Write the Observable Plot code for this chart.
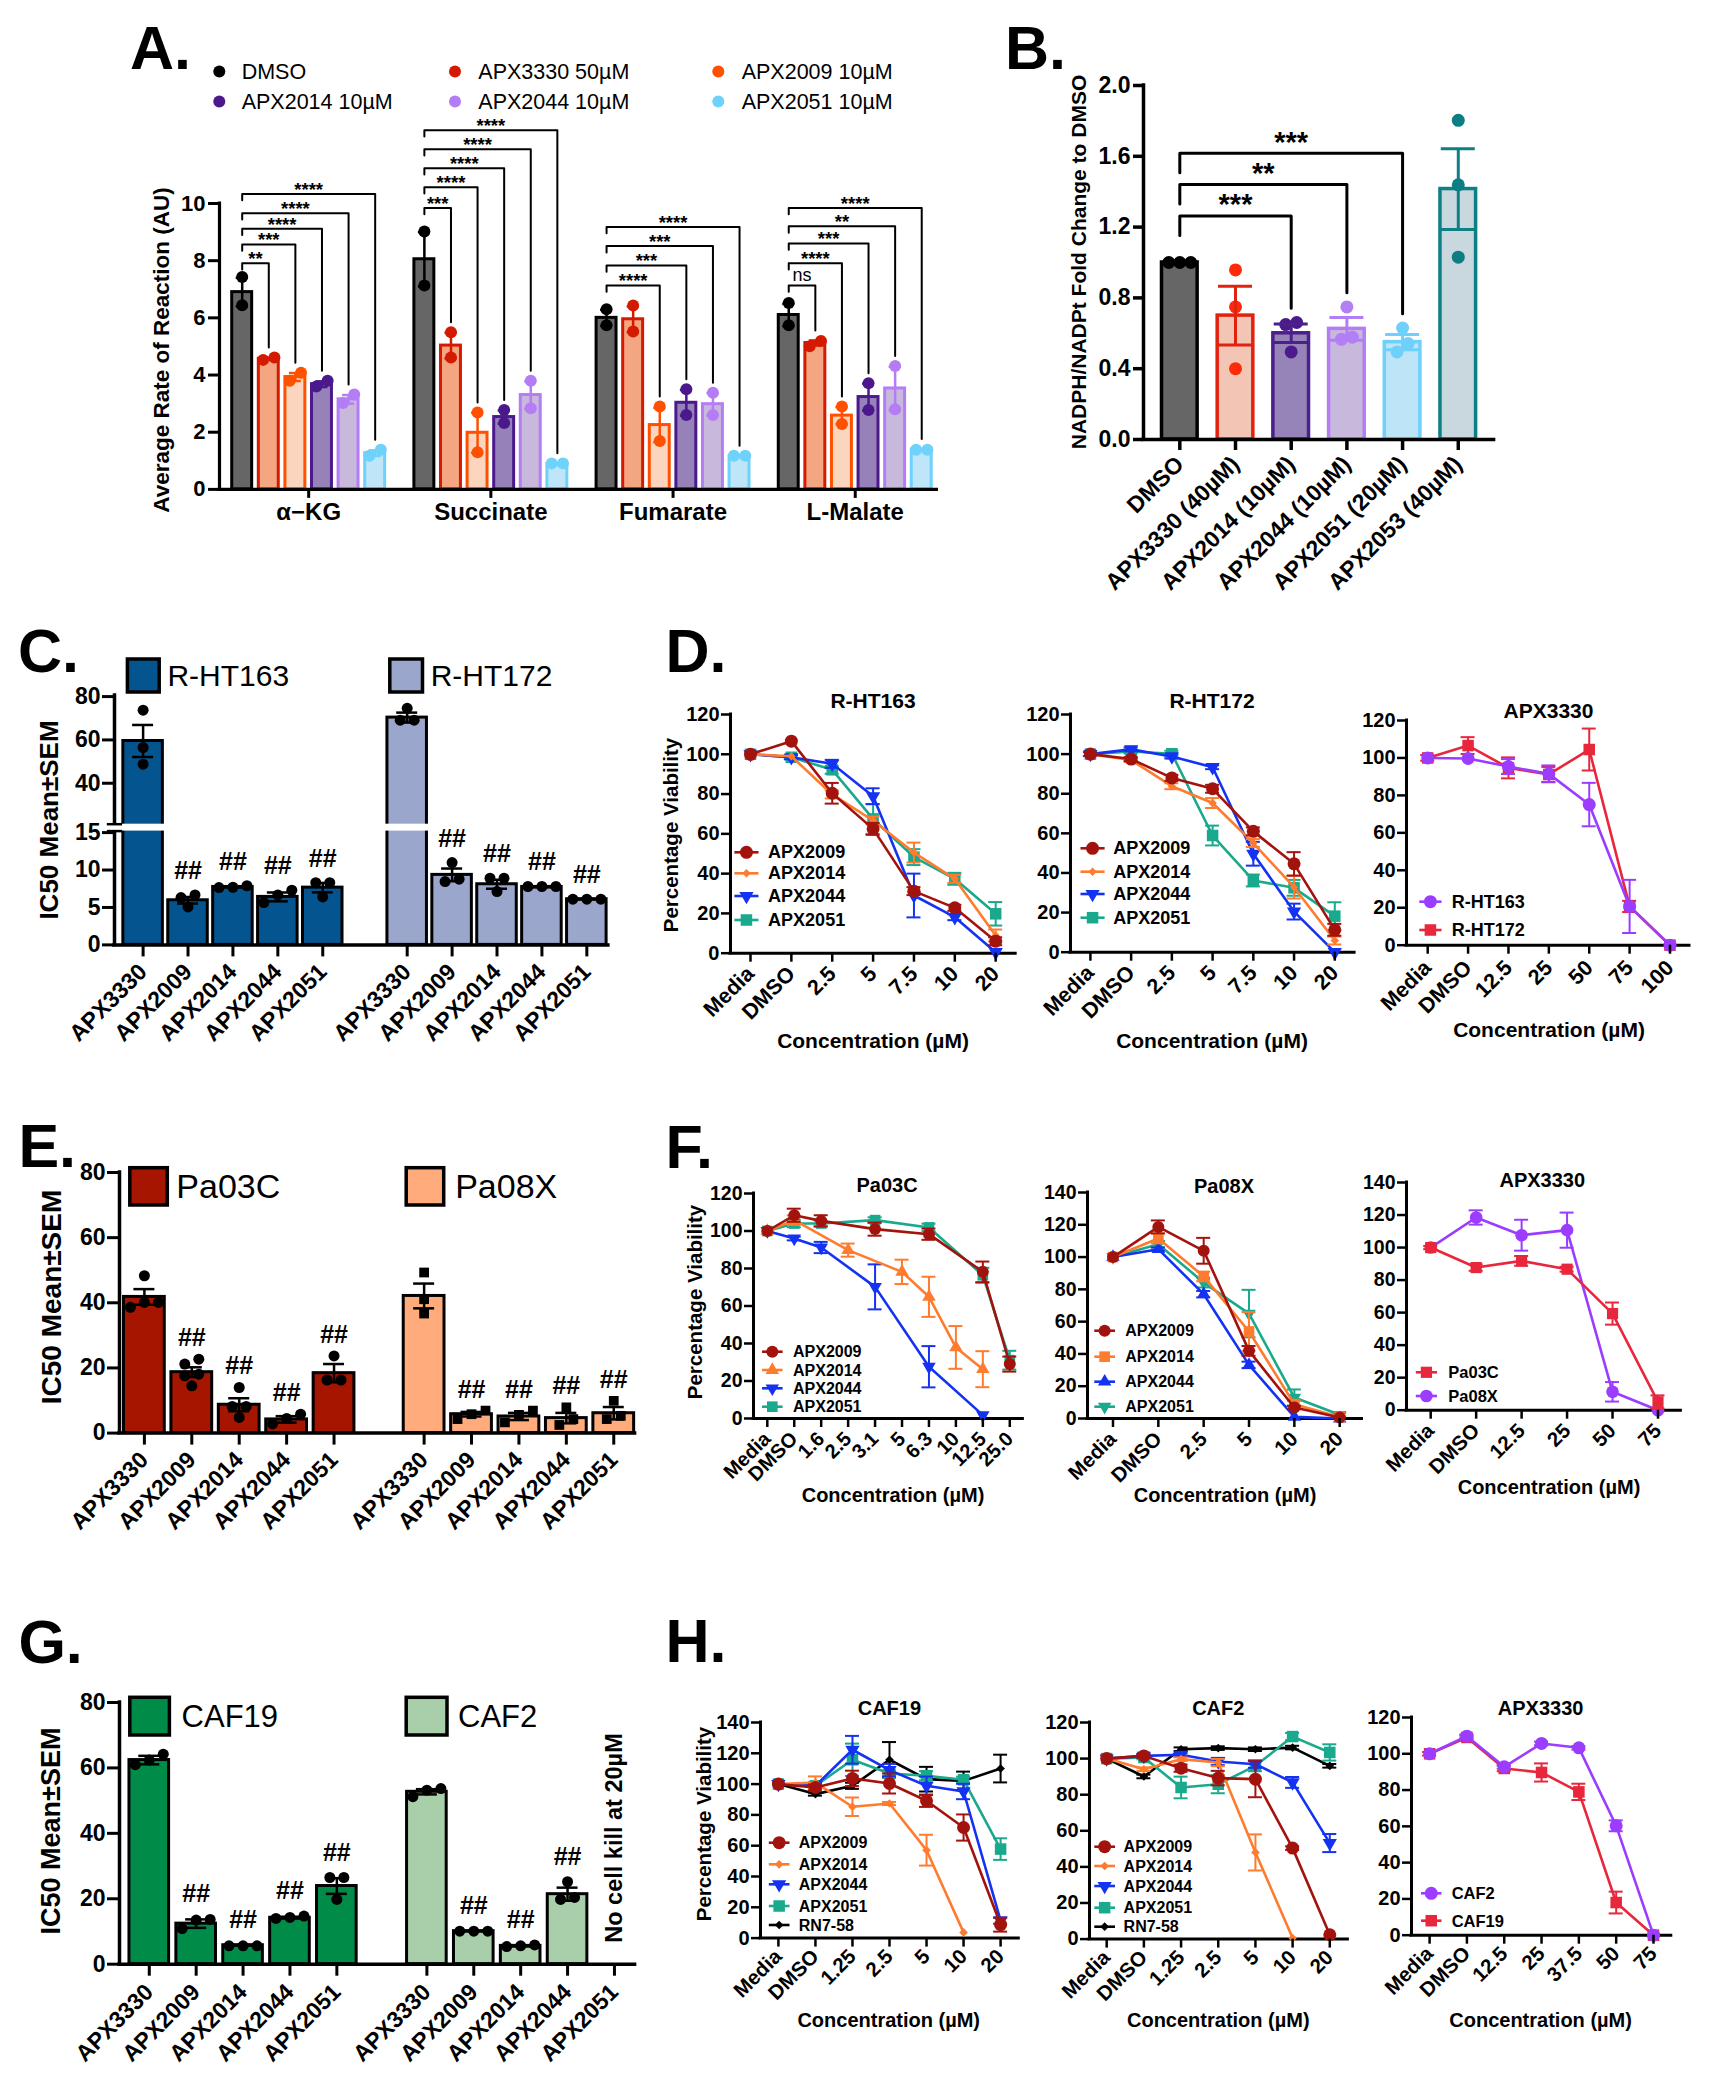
<!DOCTYPE html>
<html>
<head>
<meta charset="utf-8">
<script src="https://cdn.jsdelivr.net/npm/d3@7"></script>
<script src="https://cdn.jsdelivr.net/npm/@observablehq/plot@0.6"></script>
<style>
  html, body { margin: 0; padding: 0; background: #fff; }
  #page { position: relative; width: 1716px; height: 2100px; overflow: hidden; background: #fff; }
  #page svg { position: absolute; overflow: visible; }
</style>
</head>
<body>
<div id="page"></div>
<script>
// ======================= DATA =======================
// ---- Panel A : average rate of reaction (AU) ----
const aGroups = ["α−KG", "Succinate", "Fumarate", "L-Malate"];
const aTreatments = ["DMSO", "APX3330 50µM", "APX2009 10µM", "APX2014 10µM", "APX2044 10µM", "APX2051 10µM"];
const aMeans = [
  [6.90, 4.57, 3.93, 3.68, 3.15, 1.27],
  [8.05, 5.03, 1.98, 2.53, 3.30, 0.89],
  [6.00, 5.95, 2.25, 3.03, 2.98, 1.16],
  [6.10, 5.12, 2.58, 3.23, 3.53, 1.39]
];
const aSEM = [
  [0.50, 0.04, 0.14, 0.10, 0.15, 0.10],
  [0.95, 0.45, 0.70, 0.23, 0.48, 0.02],
  [0.28, 0.45, 0.60, 0.45, 0.39, 0.02],
  [0.39, 0.09, 0.30, 0.47, 0.76, 0.02]
];
const aPoints = [
  [[7.43, 6.44], [4.53, 4.61], [3.80, 4.08], [3.60, 3.80], [3.02, 3.32], [1.18, 1.39]],
  [[9.02, 7.13], [5.50, 4.61], [2.69, 1.30], [2.78, 2.32], [3.80, 2.84], [0.91, 0.91]],
  [[6.30, 5.74], [6.43, 5.52], [2.90, 1.69], [3.50, 2.60], [3.38, 2.60], [1.18, 1.18]],
  [[6.52, 5.74], [5.01, 5.19], [2.90, 2.29], [3.71, 2.78], [4.32, 2.80], [1.39, 1.39]]
];
const aBracketGroup  = [0, 0, 0, 0, 0, 1, 1, 1, 1, 1, 2, 2, 2, 2, 3, 3, 3, 3, 3];
const aBracketTarget = [1, 2, 3, 4, 5, 1, 2, 3, 4, 5, 2, 3, 4, 5, 1, 2, 3, 4, 5];
const aBracketLevel  = [7.91, 8.57, 9.12, 9.66, 10.33, 9.84, 10.57, 11.23, 11.90, 12.56, 7.13, 7.83, 8.51, 9.18, 7.13, 7.91, 8.60, 9.20, 9.84];
const aBracketLabel  = ["**", "***", "****", "****", "****", "***", "****", "****", "****", "****", "****", "***", "***", "****", "ns", "****", "***", "**", "****"];

// ---- Panel B : NADPH/NADPt fold change ----
const bCategories = ["DMSO", "APX3330 (40µM)", "APX2014 (10µM)", "APX2044 (10µM)", "APX2051 (20µM)", "APX2053 (40µM)"];
const bMeans = [1.00, 0.70, 0.60, 0.625, 0.55, 1.415];
const bSEM = [0.0, 0.166, 0.052, 0.064, 0.043, 0.228];
const bPoints = [[1.0, 1.0, 1.0], [0.958, 0.749, 0.40], [0.661, 0.649, 0.495], [0.749, 0.566, 0.578], [0.630, 0.495, 0.542], [1.803, 1.439, 1.030]];
const bBracketTarget = [2, 3, 4];
const bBracketLevel = [1.263, 1.441, 1.617];
const bBracketLabel = ["***", "**", "***"];

// ---- Panels C / E / G : IC50 ----
const icCompounds = ["APX3330", "APX2009", "APX2014", "APX2044", "APX2051"];
const cLines = ["R-HT163", "R-HT172"];
const cMeans = [[59.5, 5.96, 7.74, 6.41, 7.65], [70.3, 9.35, 8.10, 7.74, 6.10]];
const cSEM = [[7.4, 0.44, 0.08, 0.59, 0.63], [2.3, 0.85, 0.60, 0.06, 0.04]];
const cPoints = [
  [[73.7, 56.5, 48.8], [5.07, 6.32, 6.68], [7.65, 7.90, 7.70], [7.30, 5.65, 6.68], [8.30, 6.40, 8.30]],
  [[74.6, 69.1, 69.1], [11.0, 8.46, 8.77], [8.90, 7.12, 8.90], [7.80, 7.80, 7.80], [6.10, 6.10, 6.10]]
];
const eLines = ["Pa03C", "Pa08X"];
const eMeans = [[41.8, 18.7, 8.7, 4.2, 18.4], [42.1, 5.8, 5.1, 4.6, 6.1]];
const eSEM = [[2.4, 1.5, 2.0, 1.0, 2.8], [3.8, 0.7, 1.1, 1.6, 1.9]];
const ePoints = [
  [[48.3, 40.1, 38.6, 40.1], [21.2, 22.7, 18.1, 17.6, 14.5], [14.0, 8.2, 8.2, 4.8], [2.8, 5.8, 4.5], [23.7, 16.3, 16.3]],
  [[49.3, 41.1, 36.7], [4.3, 6.9, 5.8], [6.9, 3.3, 5.6], [2.5, 7.9, 4.3], [4.3, 9.9, 5.3]]
];
const gLines = ["CAF19", "CAF2"];
const gMeans = [[62.4, 12.4, 5.8, 14.2, 23.9], [52.7, 10.1, 5.6, 21.4, null]];
const gSEM = [[1.3, 1.3, 0.1, 0.25, 2.4], [0.8, 0.1, 0.2, 2.0, null]];
const gPoints = [
  [[64.2, 61.0, 62.4], [10.9, 13.7, 13.5], [5.6, 5.6, 5.6], [14.3, 14.7, 14.0], [26.5, 19.8, 26.5]],
  [[51.2, 53.7, 53.2], [10.1, 10.1, 10.1], [5.4, 5.9, 5.6], [25.2, 19.8, 20.4], []]
];

// ---- Panel D : viability (%) ----
const dConc = ["Media", "DMSO", "2.5", "5", "7.5", "10", "20"];
const dHT163 = {
  APX2009: [100, 106.6, 80.4, 62.5, 31.2, 22.8, 6.0],
  APX2014: [100, 99.0, 79.8, 66.7, 50.6, 37.4, 8.9],
  APX2044: [100, 98.5, 95.2, 78.9, 29.0, 18.1, 0.5],
  APX2051: [100, 98.5, 92.2, 67.5, 48.3, 37.4, 19.8]
};
const dHT163Err = {
  APX2009: [0, 0, 5.2, 3, 2, 1.5, 2],
  APX2014: [0, 0, 2, 2, 5, 2, 3],
  APX2044: [0, 1, 2, 4, 11, 1.5, 0],
  APX2051: [0, 1, 2, 7.5, 4, 3, 5.9]
};
const dHT172 = {
  APX2009: [100, 97.5, 88.0, 82.5, 61.0, 44.6, 11.3],
  APX2014: [100, 97.0, 83.8, 75.3, 55.1, 32.8, 5.9],
  APX2044: [100, 102.4, 98.8, 93.4, 49.7, 20.5, 0],
  APX2051: [100, 101.3, 100.2, 58.9, 36.2, 32.5, 18.2]
};
const dHT172Err = {
  APX2009: [0, 1, 1.5, 2, 2, 5.9, 3],
  APX2014: [0, 1, 1.5, 2.5, 2, 5.7, 2],
  APX2044: [1, 1, 1, 1, 6, 4, 0],
  APX2051: [0, 1, 1.5, 5, 3, 4, 7]
};
const dConc3330 = ["Media", "DMSO", "12.5", "25", "50", "75", "100"];
const d3330 = {
  "R-HT163": [100, 99.7, 95.4, 91.5, 75.1, 20.7, 0],
  "R-HT172": [100, 106.6, 94.7, 91.2, 104.5, 20.7, 0]
};
const d3330Err = {
  "R-HT163": [0, 0, 4, 4.5, 11.6, 14.2, 0],
  "R-HT172": [1.5, 4.5, 5.6, 4, 11.2, 3, 0]
};

// ---- Panel F ----
const fConcPa03C = ["Media", "DMSO", "1.6", "2.5", "3.1", "5", "6.3", "10", "12.5", "25.0"];
const fPa03C = {
  APX2009: [100, 108.4, 105.4, null, 101.0, null, 98.3, null, 78.2, 29.0],
  APX2014: [100, 105.8, null, 89.8, null, 78.2, 64.9, 37.9, 26.3, null],
  APX2044: [100, 96.0, 91.2, null, 70.2, null, 27.6, null, 1.8, null],
  APX2051: [100, 104.0, 104.0, null, 105.8, null, 101.9, null, 76.4, 31.1]
};
const fPa03CErr = {
  APX2009: [0, 3.5, 3, null, 3.5, null, 3, null, 5.5, 4],
  APX2014: [0, 2.5, null, 3.5, null, 6.5, 10.7, 11.4, 9.6, null],
  APX2044: [0, 1, 3, null, 12, null, 11, null, 0, null],
  APX2051: [0, 2, 1.5, null, 1.5, null, 2, null, 4, 5]
};
const fConcPa08X = ["Media", "DMSO", "2.5", "5", "10", "20"];
const fPa08X = {
  APX2009: [100, 118.7, 103.9, 41.9, 6.8, 0.6],
  APX2014: [100, 111.5, 88.0, 53.9, 8.9, 1.0],
  APX2044: [100, 104.9, 77.0, 33.2, 1.0, 0],
  APX2051: [100, 108.0, 84.2, 65.0, 13.0, 2.3]
};
const fPa08XErr = {
  APX2009: [0, 4, 8, 3, 1, 0],
  APX2014: [0, 3, 3, 12, 2, 0],
  APX2044: [0, 1, 2, 2, 0, 0],
  APX2051: [0, 2, 3, 14.7, 5, 1]
};
const fConc3330 = ["Media", "DMSO", "12.5", "25", "50", "75"];
const f3330 = {
  Pa03C: [100, 87.7, 91.8, 86.7, 59.4, 5.1],
  Pa08X: [100, 118.5, 107.6, 110.7, 11.3, 0]
};
const f3330Err = {
  Pa03C: [1, 2, 3, 1.5, 6.8, 4],
  Pa08X: [0, 4.4, 9.5, 10.8, 6, 0]
};

// ---- Panel H ----
const hConc = ["Media", "DMSO", "1.25", "2.5", "5", "10", "20"];
const hCAF19 = {
  APX2009: [100, 97.8, 103.7, 100.4, 89.2, 71.8, 8.7],
  APX2014: [100, 101.0, 85.3, 87.4, 57.1, 3.7, null],
  APX2044: [100, 98.9, 122.3, 109.1, 98.9, 95.2, 11.3],
  APX2051: [100, 98.9, 115.8, 106.9, 105.4, 102.8, 57.8],
  "RN7-58": [100, 93.5, 98.9, 115.8, 103.2, 102.1, 110.1]
};
const hCAF19Err = {
  APX2009: [0, 2, 5, 6.5, 4, 8.5, 4.5],
  APX2014: [0, 4, 6, 1, 10, 0, null],
  APX2044: [0, 2, 9, 4, 6, 5, 2],
  APX2051: [0, 2, 10.5, 2, 3, 2, 7],
  "RN7-58": [0, 1, 2, 11.5, 8, 6, 9]
};
const hCAF2 = {
  APX2009: [100, 101.5, 94.7, 89.2, 88.6, 50.4, 2.4],
  APX2014: [100, 94.1, 99.7, 97.8, 48.0, 0.6, null],
  APX2044: [100, 101.5, 102.1, 98.4, 96.9, 86.8, 53.2],
  APX2051: [100, 100.6, 84.0, 85.8, 96.0, 112.2, 103.4],
  "RN7-58": [100, 90.1, 105.2, 105.8, 105.2, 106.1, 96.0]
};
const hCAF2Err = {
  APX2009: [0, 1, 2, 4, 10, 1, 0],
  APX2014: [0, 1, 1, 2, 10, 0, null],
  APX2044: [0, 1, 1, 2, 2, 3, 5],
  APX2051: [0, 1, 6, 5, 3, 2, 4.5],
  "RN7-58": [0, 1, 1, 1, 1, 1, 1]
};
const hConc3330 = ["Media", "DMSO", "12.5", "25", "37.5", "50", "75"];
const h3330 = {
  CAF2: [100, 109.7, 92.8, 105.7, 103.3, 60.3, 0],
  CAF19: [100, 109.0, 91.9, 89.7, 79.0, 18.0, 0]
};
const h3330Err = {
  CAF2: [0, 1, 1, 1, 1, 3, 0],
  CAF19: [1, 1, 1.5, 5, 4.5, 6, 0]
};

// ======================= STYLE =======================
const FONT = '"Liberation Sans", Arial, Helvetica, sans-serif';
const page = document.getElementById("page");
const A_FILL = ["#666666", "#f4a582", "#fcd5be", "#9682b9", "#c8b9dc", "#bee6f8"];
const A_STROKE = ["#000000", "#d41a00", "#ff5000", "#4b198c", "#b47df5", "#6ed2fa"];
const B_FILL = ["#666666", "#f2c5b5", "#9683b8", "#c8b8dc", "#bee4f7", "#c9d7de"];
const B_STROKE = ["#000000", "#e0220f", "#4b1f8c", "#b47df5", "#6fd0fb", "#0e7f85"];
const B_PT = ["#000000", "#ff2a0a", "#4d1a8c", "#b27ff5", "#6fd0fb", "#0b7d83"];
const C2009 = "#a3130e", C2014 = "#ff7b2e", C2044 = "#1432f2", C2051 = "#19a98c", CRN = "#000000", CPUR = "#9b3cff", CRED = "#e8263c";

const triDown = {draw(ctx, size) {
  const y = -Math.sqrt(size / (Math.sqrt(3) * 3));
  ctx.moveTo(0, -y * 2); ctx.lineTo(-Math.sqrt(3) * y, y); ctx.lineTo(Math.sqrt(3) * y, y); ctx.closePath();
}};
const triUp = d3.symbolTriangle, circ = d3.symbolCircle, sq = d3.symbolSquare, dia = d3.symbolDiamond2;

// ======================= HELPERS =======================
function makePlot(P, marks) {
  const ML = P.ml ?? 80, MR = P.mr ?? 12, MT = P.mt ?? 20, MB = P.mb ?? 120;
  const svgLeft = P.left - ML, svgTop = P.top - MT;
  const width = P.right - P.left + ML + MR;
  const height = P.bottom - P.top + MT + MB;
  const yRange = (P.yRangePage || [P.bottom, P.top]).map(v => v - svgTop);
  const svg = Plot.plot({
    width, height, marginLeft: ML, marginRight: MR, marginTop: MT, marginBottom: MB,
    x: {type: "linear", domain: P.xDomain},
    y: {type: "linear", domain: P.yDomain, range: yRange},
    color: {type: "identity"},
    style: `background: transparent; overflow: visible; font-family: ${FONT}; color: #000;`,
    marks
  });
  svg.style.position = "absolute";
  svg.style.left = svgLeft + "px";
  svg.style.top = svgTop + "px";
  page.appendChild(svg);
}

function dodgeOffsets(vals, yPx, r, spacing) {
  const order = vals.map((v, i) => i).sort((a, b) => vals[a] - vals[b]);
  const offs = new Array(vals.length).fill(0);
  let cluster = [order[0]];
  const flush = () => { const k = cluster.length; cluster.forEach((idx, j) => { offs[idx] = (j - (k - 1) / 2) * spacing; }); };
  for (let j = 1; j < order.length; j++) {
    const prev = order[j - 1], cur = order[j];
    if (Math.abs(yPx(vals[cur]) - yPx(vals[prev])) < 1.6 * r) cluster.push(cur);
    else { flush(); cluster = [cur]; }
  }
  flush();
  return offs;
}

function barChart(P) {
  const yPx = d3.scaleLinear().domain(P.yDomain).range(P.yRangePage || [P.bottom, P.top]);
  const pxPerX = (P.right - P.left) / (P.xDomain[1] - P.xDomain[0]);
  const pts = [];
  P.bars.forEach(b => {
    if (!b.pts || !b.pts.length) return;
    const offs = dodgeOffsets(b.pts, yPx, P.r, P.spacing);
    b.pts.forEach((v, i) => pts.push({x: b.x + offs[i] / pxPerX, y: v, color: b.ptColor, square: !!b.square}));
  });
  const bars = P.bars.filter(b => b.mean != null);
  const errs = bars.filter(b => b.sem > 0);
  const hw = P.barW / 2, cap = P.cap / pxPerX, x0 = P.xDomain[0];
  const labelOf = new Map(P.xTicks.map((t, i) => [t, P.xLabels[i]]));
  const marks = [
    Plot.rect(bars, {x1: d => d.x - hw, x2: d => d.x + hw, y1: () => 0, y2: d => d.mean, fill: d => d.fill, stroke: d => d.stroke, strokeWidth: P.barStroke}),
    Plot.dot(pts.filter(d => !d.square), {x: "x", y: "y", r: P.r, fill: d => d.color}),
    Plot.dot(pts.filter(d => d.square), {x: "x", y: "y", r: P.r, symbol: "square", fill: d => d.color}),
    Plot.ruleX(errs, {x: "x", y1: d => d.mean - d.sem, y2: d => d.mean + d.sem, stroke: d => d.errColor, strokeWidth: P.errW}),
    Plot.ruleY(errs, {y: d => d.mean + d.sem, x1: d => d.x - cap, x2: d => d.x + cap, stroke: d => d.errColor, strokeWidth: P.errW}),
    Plot.ruleY(errs, {y: d => d.mean - d.sem, x1: d => d.x - cap, x2: d => d.x + cap, stroke: d => d.errColor, strokeWidth: P.errW}),
    Plot.ruleY([0], {strokeWidth: P.axisW, strokeLinecap: "square"}),
    Plot.ruleX([x0], {y1: () => P.yDomain[0], y2: () => P.axisTop, strokeWidth: P.axisW, strokeLinecap: "square"}),
    ...(P.extra || []),
    Plot.axisY({ticks: P.yTicks, tickFormat: P.yFmt, tickSize: P.ytick, tickPadding: P.ypad, strokeWidth: P.tickW, fontSize: P.yFont, fontWeight: "bold", label: null}),
    Plot.axisX({ticks: P.xTicks, tickFormat: d => labelOf.get(d), tickSize: P.xtick, tickPadding: P.xpad, tickRotate: P.xRotate || 0, strokeWidth: P.tickW, fontSize: P.xFont, fontWeight: "bold", label: null})
  ];
  makePlot(P, marks);
  return {yPx, pxPerX};
}

function lineChart(P) {
  const n = P.cats.length;
  const step = (P.last - P.first) / (n - 1);
  const xDomain = [(P.left - P.first) / step, (P.right - P.first) / step];
  const cap = 7 / step;
  const names = Object.keys(P.values);
  const marks = [
    Plot.ruleY([0], {strokeWidth: 3, strokeLinecap: "square"}),
    Plot.ruleX([xDomain[0]], {strokeWidth: 3, strokeLinecap: "square"})
  ];
  names.slice().reverse().forEach(name => {
    const st = P.styles[name];
    const rows = [], errs = [];
    P.values[name].forEach((v, i) => {
      if (v == null) return;
      rows.push({i, v});
      const e = P.errors[name][i];
      if (e) errs.push({i, lo: Math.max(0, v - e), hi: v + e});
    });
    marks.push(
      Plot.line(rows, {x: "i", y: "v", stroke: st.color, strokeWidth: 2.6}),
      Plot.ruleX(errs, {x: "i", y1: "lo", y2: "hi", stroke: st.color, strokeWidth: 2}),
      Plot.ruleY(errs, {y: "hi", x1: d => d.i - cap, x2: d => d.i + cap, stroke: st.color, strokeWidth: 2}),
      Plot.ruleY(errs.filter(d => d.lo > 0), {y: "lo", x1: d => d.i - cap, x2: d => d.i + cap, stroke: st.color, strokeWidth: 2}),
      Plot.dot(rows, {x: "i", y: "v", r: st.r, symbol: st.symbol, fill: st.color})
    );
  });
  marks.push(
    Plot.axisY({ticks: P.yTicks, tickSize: 9, tickPadding: 2, strokeWidth: 2.5, fontSize: P.yFont, fontWeight: "bold", label: null}),
    Plot.axisX({ticks: d3.range(n), tickFormat: i => P.cats[i], tickSize: 9, tickPadding: P.xpad ?? 8, tickRotate: -45, strokeWidth: 2.5, fontSize: P.xFont, fontWeight: "bold", label: null})
  );
  makePlot({left: P.left, right: P.right, top: P.top, bottom: P.bottom, ml: 75, mr: 10, mt: 10, mb: 100, xDomain, yDomain: P.yDomain}, marks);
}

// ======================= PANEL A =======================
(function () {
  const gs = 6.85;
  const bars = [];
  aGroups.forEach((g, gi) => aTreatments.forEach((t, ti) => bars.push({
    x: gi * gs + ti, mean: aMeans[gi][ti], sem: aSEM[gi][ti], pts: aPoints[gi][ti],
    fill: A_FILL[ti], stroke: A_STROKE[ti], errColor: A_STROKE[ti], ptColor: A_STROKE[ti]
  })));
  const centers = aGroups.map((g, gi) => gi * gs + 2.5);
  const path = [], labs = [];
  aBracketGroup.forEach((g, k) => {
    const t = aBracketTarget[k], lev = aBracketLevel[k];
    const xl = g * gs, xr = g * gs + t;
    const drop = Math.max(aMeans[g][t] + aSEM[g][t], ...aPoints[g][t]) + 0.35;
    path.push({id: k, x: xl, y: lev - 0.22}, {id: k, x: xl, y: lev}, {id: k, x: xr, y: lev}, {id: k, x: xr, y: drop});
    labs.push({x: (xl + xr) / 2, y: lev, s: aBracketLabel[k]});
  });
  barChart({
    left: 219.3, right: 936.7, top: 203.2, bottom: 489.1, ml: 100, mr: 10, mt: 110, mb: 50,
    xDomain: [-0.853, 26.12], yDomain: [0, 10], axisTop: 10,
    bars, barW: 0.75, barStroke: 3, cap: 6, errW: 2.5, r: 6, spacing: 11.3,
    axisW: 3.2, tickW: 3, yTicks: [0, 2, 4, 6, 8, 10], ytick: 11, ypad: 3, yFont: 22,
    xTicks: centers, xLabels: aGroups, xtick: 9, xpad: 5, xFont: 24,
    extra: [
      Plot.line(path, {x: "x", y: "y", z: "id", stroke: "#000", strokeWidth: 2}),
      Plot.text(labs.filter(d => d.s !== "ns"), {x: "x", y: "y", text: "s", dy: -4, fontSize: 18.5, fontWeight: "bold"}),
      Plot.text(labs.filter(d => d.s === "ns"), {x: "x", y: "y", text: "s", dy: -10, fontSize: 18, fontWeight: "normal"})
    ]
  });
})();

// ======================= PANEL B =======================
(function () {
  const bars = bCategories.map((c, i) => ({
    x: i, mean: bMeans[i], sem: bSEM[i], pts: bPoints[i],
    fill: B_FILL[i], stroke: B_STROKE[i], errColor: B_STROKE[i], ptColor: B_PT[i]
  }));
  const path = [], labs = [];
  bBracketTarget.forEach((t, k) => {
    const lev = bBracketLevel[k];
    const drop = Math.max(bMeans[t] + bSEM[t], ...bPoints[t]) + 0.08;
    path.push({id: k, x: 0, y: lev - 0.11}, {id: k, x: 0, y: lev}, {id: k, x: t, y: lev}, {id: k, x: t, y: drop});
    labs.push({x: t / 2, y: lev, s: bBracketLabel[k]});
  });
  barChart({
    left: 1142.7, right: 1493.3, top: 85, bottom: 439, ml: 80, mr: 10, mt: 20, mb: 180,
    xDomain: [-0.652, 5.643], yDomain: [0, 2], axisTop: 2,
    bars, barW: 0.64, barStroke: 3.5, cap: 17, errW: 3, r: 6.5, spacing: 11,
    axisW: 3.5, tickW: 3.5, yTicks: [0, 0.4, 0.8, 1.2, 1.6, 2.0], yFmt: d3.format(".1f"), ytick: 10, ypad: 3, yFont: 23,
    xTicks: d3.range(6), xLabels: bCategories, xtick: 11, xpad: 10, xFont: 23, xRotate: -45,
    extra: [
      Plot.line(path, {x: "x", y: "y", z: "id", stroke: "#000", strokeWidth: 3}),
      Plot.text(labs, {x: "x", y: "y", text: "s", dy: -11, fontSize: 29, fontWeight: "bold"})
    ]
  });
})();

// ======================= PANELS C / E / G =======================
function icPanel(o) {
  const bars = [], xTicks = [], xLabels = [];
  [0, 1].forEach(g => icCompounds.forEach((name, i) => {
    const x = (g === 0 ? 0 : o.g2) + i;
    xTicks.push(x); xLabels.push(name);
    bars.push({x, mean: o.means[g][i], sem: o.sems[g][i], pts: o.points[g][i], fill: o.fills[g],
      stroke: "#000", errColor: "#000", ptColor: "#000", square: !!(o.squares && o.squares[g]),
      hash: i > 0 && o.means[g][i] != null});
  }));
  const hashes = bars.filter(b => b.hash).map(b => ({x: b.x, y: Math.max(b.mean + b.sem, ...b.pts)}));
  const extra = (o.extra || []).concat([
    Plot.text(hashes, {x: "x", y: "y", text: () => "##", dy: -o.hashOff, fontSize: 25, fontWeight: "bold"})
  ]);
  barChart(Object.assign({
    ml: 70, mr: 10, mt: 10, mb: 140, bars, barStroke: 3, cap: 10.5, errW: 2.5, r: 5.5, spacing: 14,
    axisW: 3.5, tickW: 3, ytick: 12, ypad: 2, yFont: 23,
    xTicks, xLabels, xtick: 12, xpad: 11, xFont: 23, xRotate: -45, extra
  }, o.geom));
}

icPanel({
  means: cMeans, sems: cSEM, points: cPoints, fills: ["#04548f", "#9ba6cc"], g2: 5.88, hashOff: 24,
  geom: {left: 114.3, right: 608.2, top: 694.6, bottom: 944, xDomain: [-0.637, 10.36],
    yDomain: [0, 15.2, 21.1, 80.5], yRangePage: [944, 830.2, 823.3, 694.6], axisTop: 80.5,
    yTicks: [0, 5, 10, 15, 40, 60, 80], barW: 0.88},
  extra: [
    Plot.rect([0], {x1: () => -0.637, x2: () => 10.36, y1: () => 15.2, y2: () => 21.1, fill: "white", insetLeft: -7}),
    Plot.ruleY([15.2, 21.1], {x1: () => -0.637 - 0.16, x2: () => -0.637 + 0.18, strokeWidth: 2.5})
  ]
});
icPanel({
  means: eMeans, sems: eSEM, points: ePoints, fills: ["#a51500", "#ffab7b"], g2: 5.9, hashOff: 21, squares: [false, true],
  geom: {left: 119.2, right: 634.8, top: 1171.7, bottom: 1432.3, xDomain: [-0.525, 10.35],
    yDomain: [0, 80], axisTop: 80, yTicks: [0, 20, 40, 60, 80], barW: 0.86}
});
icPanel({
  means: gMeans, sems: gSEM, points: gPoints, fills: ["#008c48", "#a9cfaa"], g2: 5.92, hashOff: 25,
  geom: {left: 119.2, right: 634.8, top: 1702.3, bottom: 1964, xDomain: [-0.635, 10.36],
    yDomain: [0, 80], axisTop: 80, yTicks: [0, 20, 40, 60, 80], barW: 0.845, xpad: 12}
});

// ======================= LINE PANELS =======================
const stD = {APX2009: {color: C2009, symbol: circ, r: 6.5}, APX2014: {color: C2014, symbol: dia, r: 3.8},
  APX2044: {color: C2044, symbol: triDown, r: 5.3}, APX2051: {color: C2051, symbol: sq, r: 6.5}};
const stD3 = {"R-HT163": {color: CPUR, symbol: circ, r: 6.5}, "R-HT172": {color: CRED, symbol: sq, r: 6.5}};
const stF1 = {APX2009: {color: C2009, symbol: circ, r: 6}, APX2014: {color: C2014, symbol: triUp, r: 5},
  APX2044: {color: C2044, symbol: triDown, r: 5}, APX2051: {color: C2051, symbol: sq, r: 6}};
const stF2 = {APX2009: {color: C2009, symbol: circ, r: 6}, APX2014: {color: C2014, symbol: sq, r: 6},
  APX2044: {color: C2044, symbol: triUp, r: 5}, APX2051: {color: C2051, symbol: triDown, r: 5}};
const stF3 = {Pa03C: {color: CRED, symbol: sq, r: 6.3}, Pa08X: {color: CPUR, symbol: circ, r: 6.3}};
const stH = {APX2009: {color: C2009, symbol: circ, r: 6.5}, APX2014: {color: C2014, symbol: dia, r: 3.9},
  APX2044: {color: C2044, symbol: triDown, r: 5.3}, APX2051: {color: C2051, symbol: sq, r: 6.5},
  "RN7-58": {color: CRN, symbol: dia, r: 3.9}};
const stH3 = {CAF2: {color: CPUR, symbol: circ, r: 6.5}, CAF19: {color: CRED, symbol: sq, r: 6.5}};
const t120 = [0, 20, 40, 60, 80, 100, 120], t140 = [0, 20, 40, 60, 80, 100, 120, 140];

lineChart({left: 729.9, right: 1015.1, top: 714, bottom: 952.7, first: 749.9, last: 995.1, yDomain: [0, 120], yTicks: t120,
  cats: dConc, values: dHT163, errors: dHT163Err, styles: stD, yFont: 20, xFont: 21.5, xpad: 8});
lineChart({left: 1070.2, right: 1354.3, top: 714, bottom: 951.7, first: 1090.1, last: 1334.5, yDomain: [0, 120], yTicks: t120,
  cats: dConc, values: dHT172, errors: dHT172Err, styles: stD, yFont: 20, xFont: 21.5, xpad: 8});
lineChart({left: 1406.3, right: 1689.3, top: 720, bottom: 944.7, first: 1427.5, last: 1669.8, yDomain: [0, 120], yTicks: t120,
  cats: dConc3330, values: d3330, errors: d3330Err, styles: stD3, yFont: 20, xFont: 21.5, xpad: 10});
lineChart({left: 752.6, right: 1022, top: 1193.3, bottom: 1418.3, first: 766.4, last: 1008.9, yDomain: [0, 120], yTicks: t120,
  cats: fConcPa03C, values: fPa03C, errors: fPa03CErr, styles: stF1, yFont: 19.5, xFont: 20, xpad: 8});
lineChart({left: 1086.7, right: 1361.2, top: 1191.7, bottom: 1417.7, first: 1112.2, last: 1338.9, yDomain: [0, 140], yTicks: t140,
  cats: fConcPa08X, values: fPa08X, errors: fPa08XErr, styles: stF2, yFont: 19.5, xFont: 20.5, xpad: 8});
lineChart({left: 1406.3, right: 1680.7, top: 1182.3, bottom: 1410, first: 1430.5, last: 1657.8, yDomain: [0, 140], yTicks: t140,
  cats: fConc3330, values: f3330, errors: f3330Err, styles: stF3, yFont: 19.5, xFont: 20.5, xpad: 8});
lineChart({left: 759.5, right: 1017.8, top: 1721.7, bottom: 1937.3, first: 777.4, last: 999.6, yDomain: [0, 140], yTicks: t140,
  cats: hConc, values: hCAF19, errors: hCAF19Err, styles: stH, yFont: 20, xFont: 20.5, xpad: 6});
lineChart({left: 1089.1, right: 1347.5, top: 1721.7, bottom: 1938.3, first: 1106.3, last: 1329.4, yDomain: [0, 120], yTicks: t120,
  cats: hConc, values: hCAF2, errors: hCAF2Err, styles: stH, yFont: 20, xFont: 20.5, xpad: 6});
lineChart({left: 1410.7, right: 1670.5, top: 1717.3, bottom: 1935, first: 1428.8, last: 1652.7, yDomain: [0, 120], yTicks: t120,
  cats: hConc3330, values: h3330, errors: h3330Err, styles: stH3, yFont: 20, xFont: 20.5, xpad: 6});

// ======================= OVERLAY TEXT / LEGENDS =======================
const ov = d3.select(page).append("svg").attr("width", 1716).attr("height", 2100)
  .style("left", "0px").style("top", "0px").style("pointer-events", "none").attr("font-family", FONT);
function T(x, y, s, o = {}) {
  const t = ov.append("text").attr("x", x).attr("y", y).text(s)
    .attr("font-size", o.size || 20).attr("font-weight", o.weight || "bold")
    .attr("text-anchor", o.anchor || "start").attr("fill", o.fill || "#000");
  if (o.baseline) t.attr("dominant-baseline", o.baseline);
  if (o.rotate) t.attr("transform", `rotate(${o.rotate},${x},${y})`);
  return t;
}
function yTitle(x, y, s, size) { T(x, y, s, {size, anchor: "middle", baseline: "central", rotate: -90}); }
function swatch(x, y, w, h, fill, label, tx, size) {
  ov.append("rect").attr("x", x).attr("y", y).attr("width", w).attr("height", h).attr("fill", fill).attr("stroke", "#000").attr("stroke-width", 3.5);
  T(tx, y + h / 2, label, {size, weight: "normal", baseline: "central"});
}
function lineLegend(x0, x1, tx, ys, styles, size) {
  Object.keys(styles).forEach((name, k) => {
    const st = styles[name], y = ys[k];
    ov.append("line").attr("x1", x0).attr("x2", x1).attr("y1", y).attr("y2", y).attr("stroke", st.color).attr("stroke-width", 2.6);
    ov.append("path").attr("d", d3.symbol(st.symbol, Math.PI * st.r * st.r)()).attr("transform", `translate(${(x0 + x1) / 2},${y})`).attr("fill", st.color);
    T(tx, y, name, {size, baseline: "central"});
  });
}

// panel letters
[["A.", 130, 69], ["B.", 1005, 69.4], ["C.", 18, 672], ["D.", 665.5, 671.7],
 ["E.", 18.4, 1166.7], ["F.", 665.5, 1168.3], ["G.", 18.4, 1663.3], ["H.", 665.5, 1661.7]]
  .forEach(([s, x, y]) => T(x, y, s, {size: 61}));

// A legend
const aLegX = [[219.3, 241.7], [455, 478.3], [718.3, 741.7]], aLegY = [71.5, 101.6];
aTreatments.forEach((t, i) => {
  const col = i % 3, row = Math.floor(i / 3);
  ov.append("circle").attr("cx", aLegX[col][0]).attr("cy", aLegY[row]).attr("r", 6).attr("fill", A_STROKE[i]);
  T(aLegX[col][1], aLegY[row], t, {size: 21.5, weight: "normal", baseline: "central"});
});
yTitle(161.7, 350, "Average Rate of Reaction (AU)", 22.5);
yTitle(1078, 262, "NADPH/NADPt Fold Change to DMSO", 21);

// C / E / G legends and titles
swatch(127.4, 659, 31.8, 33, "#04548f", cLines[0], 167.4, 30);
swatch(389.8, 659, 32.7, 33, "#9ba6cc", cLines[1], 430.7, 30);
yTitle(49, 820, "IC50 Mean±SEM", 26);
swatch(129.8, 1167.7, 37.5, 37.3, "#a51500", eLines[0], 176.3, 34);
swatch(406.2, 1167.7, 37.5, 37.3, "#ffab7b", eLines[1], 455.2, 34);
yTitle(51, 1297, "IC50 Mean±SEM", 28);
swatch(129.8, 1697.3, 39.6, 37.7, "#008c48", gLines[0], 181.6, 31);
swatch(406.2, 1697.3, 40.8, 37.7, "#a9cfaa", gLines[1], 458, 31);
yTitle(51, 1831, "IC50 Mean±SEM", 27);
yTitle(614.3, 1838, "No cell kill at 20µM", 23.5);

// D
T(873, 707.5, "R-HT163", {size: 21, anchor: "middle"});
T(1212, 707.5, "R-HT172", {size: 21, anchor: "middle"});
T(1548.5, 718.3, "APX3330", {size: 21, anchor: "middle"});
yTitle(670, 835, "Percentage Viability", 20.5);
T(873, 1048, "Concentration (µM)", {size: 21, anchor: "middle"});
T(1212, 1048, "Concentration (µM)", {size: 21, anchor: "middle"});
T(1549, 1036.7, "Concentration (µM)", {size: 21, anchor: "middle"});
lineLegend(734.4, 758.5, 768.1, [852.3, 873.3, 896, 920], stD, 18);
lineLegend(1080.5, 1104.6, 1113.2, [848.3, 871.7, 894, 917.7], stD, 18);
lineLegend(1419.3, 1441.5, 1451.7, [901.7, 930], stD3, 18);

// F
T(887, 1192.3, "Pa03C", {size: 20, anchor: "middle"});
T(1224, 1192.7, "Pa08X", {size: 20, anchor: "middle"});
T(1542.3, 1186.7, "APX3330", {size: 20, anchor: "middle"});
yTitle(694.8, 1302, "Percentage Viability", 20.5);
T(893, 1501.7, "Concentration (µM)", {size: 20, anchor: "middle"});
T(1225, 1501.7, "Concentration (µM)", {size: 20, anchor: "middle"});
T(1549, 1494, "Concentration (µM)", {size: 20, anchor: "middle"});
lineLegend(762, 782.6, 793, [1351.7, 1370, 1388.3, 1406.7], stF1, 16);
lineLegend(1094.3, 1115, 1125.3, [1330.7, 1356.7, 1381.7, 1406.7], stF2, 16);
lineLegend(1415.8, 1437, 1448.3, [1372.3, 1396], stF3, 16.5);

// H
T(889.4, 1715, "CAF19", {size: 20, anchor: "middle"});
T(1218.3, 1715, "CAF2", {size: 20, anchor: "middle"});
T(1540.6, 1715, "APX3330", {size: 20, anchor: "middle"});
yTitle(703.4, 1824, "Percentage Viability", 20.5);
T(888.7, 2027, "Concentration (µM)", {size: 20, anchor: "middle"});
T(1218.3, 2027, "Concentration (µM)", {size: 20, anchor: "middle"});
T(1540.6, 2027, "Concentration (µM)", {size: 20, anchor: "middle"});
lineLegend(768.8, 789.5, 798.8, [1842.7, 1864.3, 1884.3, 1906, 1925], stH, 16);
lineLegend(1094.3, 1115, 1123.6, [1846.7, 1866, 1886, 1907.7, 1926.7], stH, 16);
lineLegend(1421, 1441.5, 1451.7, [1893.3, 1920.7], stH3, 16.5);
</script>
</body>
</html>
